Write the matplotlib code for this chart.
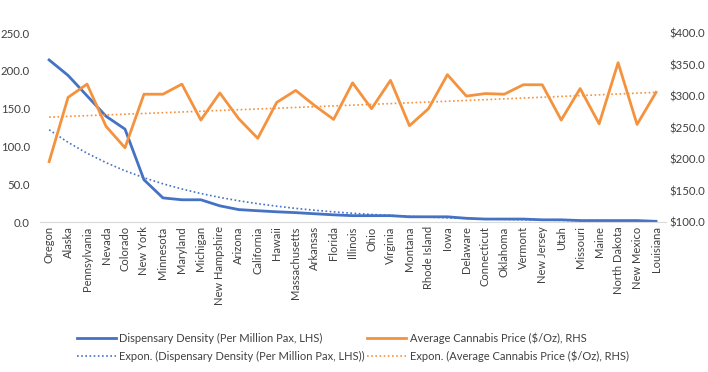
import numpy as np
import matplotlib
matplotlib.use("Agg")
import matplotlib.pyplot as plt
from matplotlib.ticker import FuncFormatter

states = ["Oregon", "Alaska", "Pennsylvania", "Nevada", "Colorado", "New York", "Minnesota",
          "Maryland", "Michigan", "New Hampshire", "Arizona", "California", "Hawaii",
          "Massachusetts", "Arkansas", "Florida", "Illinois", "Ohio", "Virginia", "Montana",
          "Rhode Island", "Iowa", "Delaware", "Connecticut", "Oklahoma", "Vermont",
          "New Jersey", "Utah", "Missouri", "Maine", "North Dakota", "New Mexico", "Louisiana"]
density = [214.5, 194, 167, 140, 123, 56, 32, 29.5, 29.5, 21.5, 16.5, 15, 13.6, 12.5, 11,
           9.6, 8.5, 8.5, 8.5, 7, 7, 7, 5, 4, 4, 4, 3, 3, 2, 2, 2, 2, 1]
price = [196, 298, 319, 252, 218, 303, 303, 319, 262, 305, 264, 233, 290, 309, 285, 263, 321,
         280, 325, 253, 280, 334, 300, 304, 303, 318, 318, 262, 312, 256, 353, 255, 306]

plt.rcParams['font.family'] = ['Lato', 'DejaVu Sans']

blue = "#4472C4"
orange = "#F5923E"
txt = "#404040"

fig = plt.figure(figsize=(7.08, 3.72), dpi=100)
ax = fig.add_axes([0.056, 0.403, 0.884, 0.508])
ax2 = ax.twinx()

x = np.arange(len(states))

def expon(y):
    b, a = np.polyfit(x, np.log(y), 1)
    return np.exp(a + b * x)

l1, = ax.plot(x, density, color=blue, lw=2.0, solid_joinstyle='round')
l3, = ax.plot(x, expon(density), color=blue, lw=1.2, ls=(0, (1, 1.5)))
l2, = ax2.plot(x, price, color=orange, lw=2.0, solid_joinstyle='round')
l4, = ax2.plot(x, expon(price), color=orange, lw=1.2, ls=(0, (1, 1.5)))

ax.set_xlim(-0.5, len(states) - 0.5)
ax.set_ylim(0, 250)
ax2.set_ylim(100, 400)
ax.set_yticks([0, 50, 100, 150, 200, 250])
ax2.set_yticks([100, 150, 200, 250, 300, 350, 400])
ax.yaxis.set_major_formatter(FuncFormatter(lambda v, p: f"{v:.1f}"))
ax2.yaxis.set_major_formatter(FuncFormatter(lambda v, p: f"${v:.1f}"))
ax.set_xticks(x)
ax.set_xticklabels(states, rotation=90, fontsize=8, color=txt)

for a in (ax, ax2):
    for s in a.spines.values():
        s.set_visible(False)
    a.tick_params(axis='y', length=0, labelsize=8.2, colors=txt)
ax.spines['bottom'].set_visible(True)
ax.spines['bottom'].set_color("#D9D9D9")
ax.tick_params(axis='x', length=0, pad=3)
ax.tick_params(axis='y', pad=7)
ax2.tick_params(axis='y', pad=3)

fig.legend([l1, l3, l2, l4],
           ["Dispensary Density (Per Million Pax, LHS)",
            "Expon. (Dispensary Density (Per Million Pax, LHS))",
            "Average Cannabis Price ($/Oz), RHS",
            "Expon. (Average Cannabis Price ($/Oz), RHS)"],
           ncol=2, loc='lower left', bbox_to_anchor=(0.095, 0.0), frameon=False,
           fontsize=8, handlelength=3.5, handletextpad=0.3, columnspacing=0.2,
           labelspacing=0.6, labelcolor=txt)

fig.savefig("out.png", dpi=100)
